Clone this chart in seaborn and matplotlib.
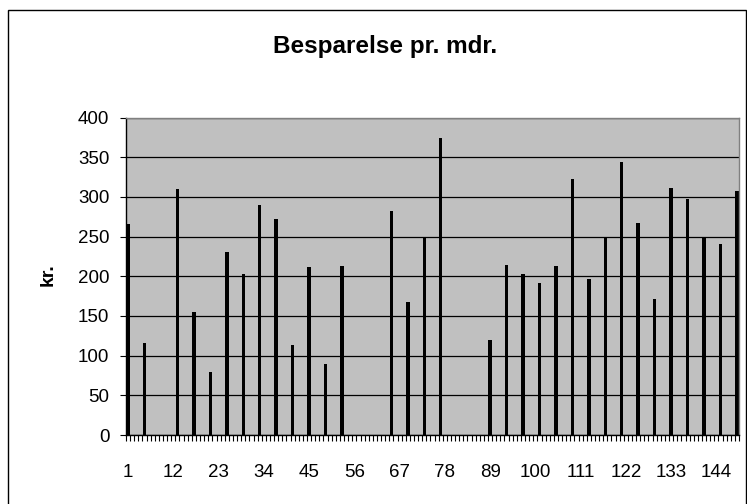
import matplotlib
matplotlib.use('Agg')
import matplotlib.pyplot as plt
import numpy as np
import pandas as pd
import seaborn as sns
from matplotlib.patches import Rectangle

# Months on the category axis, savings booked every 4th month
n_months = 149
saving_months = list(range(1, n_months + 1, 4))
savings = [266, 116, 0, 310, 155, 79, 230, 203, 290, 272, 114, 212, 89,
           213, 0, 0, 282, 167, 248, 374, 0, 0, 120, 214, 203,
           191, 213, 323, 196, 250, 344, 267, 171, 311, 297, 250, 240, 307]
label_months = list(range(1, n_months + 1, 11))
y_ticks = list(range(0, 401, 50))

df = pd.DataFrame({'month': range(1, n_months + 1)})
df['kr'] = df['month'].map(dict(zip(saving_months, savings))).fillna(0)

sns.set_theme(style='white')
plt.rcParams['font.family'] = ['Liberation Sans', 'DejaVu Sans']
plt.rcParams['text.color'] = 'black'
plt.rcParams['xtick.color'] = 'black'
plt.rcParams['ytick.color'] = 'black'

fig = plt.figure(figsize=(7.47, 5.04), dpi=100)
W, H = 747, 504
ax = fig.add_axes([126 / W, 1 - 435 / H, 613 / W, (435 - 117.5) / H])
ax.set_facecolor('#C0C0C0')

sns.barplot(data=df, x='month', y='kr', color='black', saturation=1,
            width=0.85, ax=ax, errorbar=None, linewidth=0)

ax.set_xlim(-0.5, n_months - 0.5)
ax.set_ylim(0, 400)
ax.set_yticks(y_ticks)
ax.set_yticklabels([str(v) for v in y_ticks], fontsize=13.5, color='black')

# labels every 11th month, tick marks on every category boundary
ax.set_xticks([m - 1 for m in label_months])
ax.set_xticklabels([str(m) for m in label_months], fontsize=13.5,
                   color='black')
ax.set_xticks(np.arange(-0.5, n_months, 1), minor=True)
ax.tick_params(axis='x', which='major', length=0, pad=21)
ax.tick_params(axis='x', which='minor', length=4, width=0.8,
               direction='out', color='black', bottom=True)
ax.tick_params(axis='y', length=4, width=0.8, direction='out', left=True,
               pad=8, color='black')

ax.yaxis.grid(True, color='black', linewidth=0.9)
ax.set_axisbelow(True)
ax.set_xlabel('')
ax.set_ylabel('')

for side in ['left', 'bottom']:
    ax.spines[side].set_color('black')
    ax.spines[side].set_linewidth(1)
for side in ['top', 'right']:
    ax.spines[side].set_color('#808080')
    ax.spines[side].set_linewidth(1)

fig.text(385 / W, 1 - 53.5 / H, 'Besparelse pr. mdr.', ha='center',
         va='baseline', fontsize=17.5, fontweight='bold', color='black')
fig.text(48 / W, 1 - 275 / H, 'kr.', ha='center', va='center',
         rotation=90, fontsize=14, fontweight='bold', color='black')

# chart area frame
fig.patches.append(Rectangle((7.5 / W, -0.01), (746 - 7.5) / W, 1.01 - 10 / H,
                             transform=fig.transFigure, fill=False,
                             edgecolor='black', linewidth=1))

fig.savefig('out.png', dpi=100)
